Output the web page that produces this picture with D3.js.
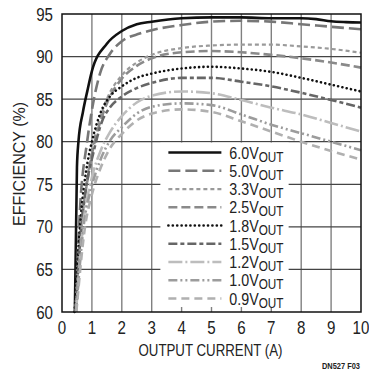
<!DOCTYPE html>
<html>
<head>
<meta charset="utf-8">
<script src="https://cdn.jsdelivr.net/npm/d3@7"></script>
<style>
	body { margin: 0; background: #fff; }
	svg text { font-family: "Liberation Sans", Arial, sans-serif; fill: #222; }
</style>
</head>
<body>
<svg id="chart" width="369" height="370"></svg>
<script>
"use strict";

// Axis ticks
var xTicks = [0, 1, 2, 3, 4, 5, 6, 7, 8, 9, 10];
var yTicks = [60, 65, 70, 75, 80, 85, 90, 95];

// Series labels (V_OUT)
var seriesNames = ["6.0", "5.0", "3.3", "2.5", "1.8", "1.5", "1.2", "1.0", "0.9"];

// Efficiency curves, [output current (A), efficiency (%)]
var eff60 = [[0.43,60],[0.5,77],[0.55,80],[0.7,83.5],[0.85,86],[1,88.3],[1.5,91.5],[2,93],[2.5,93.8],[3,94.1],[4,94.5],[5,94.6],[6,94.6],[7,94.5],[8,94.5],[8.5,94.4],[9,94.15],[9.5,94.05],[10,94.0]];
var eff50 = [[0.45,60],[0.6,72],[0.84,80],[1,83.7],[1.27,88],[1.6,90.3],[2,91.8],[2.6,92.7],[3,93.1],[4,93.7],[5,94.1],[6,94.2],[7,94.1],[8,93.8],[9,93.5],[10,93.2]];
var eff33 = [[0.45,60],[0.65,70],[0.9,77],[1,79],[1.25,82.5],[1.5,85],[2,87.8],[2.5,89.3],[3,90.2],[4,91.0],[5,91.3],[6,91.4],[7,91.4],[8,91.2],[9,90.9],[10,90.45]];
var eff25 = [[0.45,60],[0.65,70],[0.9,76.5],[1,78.5],[1.25,82],[1.5,84.5],[2,87.4],[2.5,88.9],[3,89.8],[4,90.5],[5,90.65],[6,90.5],[7,90.2],[8,89.8],[9,89.3],[10,88.7]];
var eff18 = [[0.42,60],[0.6,70],[0.85,77.5],[1,80],[1.3,83.5],[1.6,85.3],[2,86.5],[2.5,87.5],[3,88.0],[4,88.6],[5,88.8],[6,88.6],[7,88.2],[8,87.5],[9,86.7],[10,85.9]];
var eff15 = [[0.45,60],[0.65,70],[0.9,76.5],[1,78],[1.35,82.5],[1.6,84],[2,85.3],[2.5,86.3],[3,86.9],[4,87.5],[5,87.5],[6,87.05],[7,86.5],[8,85.75],[9,84.9],[10,84.0]];
var eff12 = [[0.47,60],[0.7,70],[1,75.8],[1.3,79],[1.6,81.1],[2,83.0],[2.5,84.6],[3,85.4],[4,85.9],[5,85.7],[6,84.9],[7,84.0],[8,83.2],[9,82.2],[10,81.2]];
var eff10 = [[0.47,60],[0.72,70],[1,74.8],[1.3,78],[1.6,80.1],[2,81.7],[2.5,83.3],[3,84.1],[4,84.5],[5,84.3],[6,83.2],[7,82.0],[8,81.0],[9,80.0],[10,79.0]];
var eff09 = [[0.48,60],[0.77,70],[1,73.8],[1.3,77],[1.6,79.2],[2,80.9],[2.5,82.5],[3,83.3],[4,83.8],[5,83.5],[6,82.4],[7,81.2],[8,80.0],[9,78.9],[10,77.9]];

var seriesData = [eff60, eff50, eff33, eff25, eff18, eff15, eff12, eff10, eff09];

// Line styles, one per series
var styles = [
	{c: "#111", w: 2.6, d: null, cap: "butt"},
	{c: "#777", w: 2.6, d: "12,5", cap: "butt"},
	{c: "#9a9a9a", w: 2.2, d: "4,3", cap: "butt"},
	{c: "#8a8a8a", w: 2.6, d: "9,4", cap: "butt"},
	{c: "#111", w: 2.6, d: "0.1,4.3", cap: "round"},
	{c: "#666", w: 2.6, d: "9,3,4,3", cap: "butt"},
	{c: "#bdbdbd", w: 2.6, d: "14,3,2,3", cap: "butt"},
	{c: "#9c9c9c", w: 2.6, d: "9,3,2,3,2,3", cap: "butt"},
	{c: "#b0b0b0", w: 2.6, d: "8,5", cap: "butt"}
];

// Horizontal squeeze to imitate the condensed face of the original
var NARROW = 0.84;

var m = {t: 14, l: 62, r: 8, b: 58};
var W = 369, H = 370;
var iw = W - m.l - m.r, ih = H - m.t - m.b;

var svg = d3.select("#chart");
var g = svg.append("g").attr("transform", "translate(" + m.l + "," + m.t + ")");

var x = d3.scaleLinear().domain([0, 10]).range([0, iw]);
var y = d3.scaleLinear().domain([60, 95]).range([ih, 0]);

// Grid
g.append("g").selectAll("line").data(xTicks.slice(1, -1)).join("line")
	.attr("x1", d => x(d)).attr("x2", d => x(d)).attr("y1", 0).attr("y2", ih)
	.attr("stroke", "#808080").attr("stroke-width", 1.4);
g.append("g").selectAll("line").data(yTicks.slice(1, -1)).join("line")
	.attr("x1", 0).attr("x2", iw).attr("y1", d => y(d)).attr("y2", d => y(d))
	.attr("stroke", "#444").attr("stroke-width", 1.2);

// Curves
var line = d3.line().x(d => x(d[0])).y(d => y(d[1])).curve(d3.curveMonotoneX);
g.append("g").selectAll("path").data(seriesData).join("path")
	.attr("d", line)
	.attr("fill", "none")
	.attr("stroke", (d, i) => styles[i].c)
	.attr("stroke-width", (d, i) => styles[i].w)
	.attr("stroke-dasharray", (d, i) => styles[i].d)
	.attr("stroke-linecap", (d, i) => styles[i].cap);

// Legend box
var lx0 = x(3.29), lx1 = x(7.58), ly0 = y(79.9), ly1 = ih - 5;
var lg = g.append("g");
lg.append("rect").attr("x", lx0).attr("y", ly0).attr("width", lx1 - lx0).attr("height", ly1 - ly0)
	.attr("fill", "#fff");

var rowH = 18.25, row0 = ly0 + 10;
var items = lg.selectAll("g.item").data(seriesNames).join("g").attr("class", "item")
	.attr("transform", (d, i) => "translate(0," + (row0 + i * rowH) + ")");
items.append("line").attr("x1", lx0 + 8).attr("x2", lx0 + 61).attr("y1", 0).attr("y2", 0)
	.attr("stroke", (d, i) => styles[i].c)
	.attr("stroke-width", (d, i) => styles[i].w)
	.attr("stroke-dasharray", (d, i) => styles[i].d)
	.attr("stroke-linecap", (d, i) => styles[i].cap);
var lt = items.append("text")
	.attr("transform", "translate(" + (lx0 + 69) + ",6) scale(" + NARROW + ",1)")
	.style("font-size", "17px");
lt.append("tspan").text(d => d + "V");
lt.append("tspan").attr("dy", 3).style("font-size", "14px").text("OUT");

// Frame
g.append("rect").attr("x", 0).attr("y", 0).attr("width", iw).attr("height", ih)
	.attr("fill", "none").attr("stroke", "#111").attr("stroke-width", 1.5);

// Tick labels
g.append("g").selectAll("text").data(xTicks).join("text")
	.attr("transform", d => "translate(" + x(d) + "," + (ih + 22) + ") scale(" + NARROW + ",1)")
	.attr("text-anchor", "middle")
	.style("font-size", "18px").text(d => d);
g.append("g").selectAll("text").data(yTicks).join("text")
	.attr("transform", d => "translate(-9," + (y(d) + 6.5) + ") scale(" + NARROW + ",1)")
	.attr("text-anchor", "end")
	.style("font-size", "18px").text(d => d);

// Axis titles
g.append("text").attr("x", iw / 2 - 1).attr("y", ih + 44).attr("text-anchor", "middle")
	.attr("textLength", 144).attr("lengthAdjust", "spacingAndGlyphs")
	.style("font-size", "16.5px").text("OUTPUT CURRENT (A)");
g.append("text").attr("transform", "translate(-37," + (ih / 2 + 1) + ") rotate(-90)")
	.attr("text-anchor", "middle")
	.attr("textLength", 124).attr("lengthAdjust", "spacingAndGlyphs")
	.style("font-size", "16.5px").text("EFFICIENCY (%)");

svg.append("text").attr("x", 360).attr("y", 369).attr("text-anchor", "end")
	.attr("textLength", 38).attr("lengthAdjust", "spacingAndGlyphs")
	.style("font-size", "8.5px").style("font-weight", "bold").text("DN527 F03");
</script>
</body>
</html>
